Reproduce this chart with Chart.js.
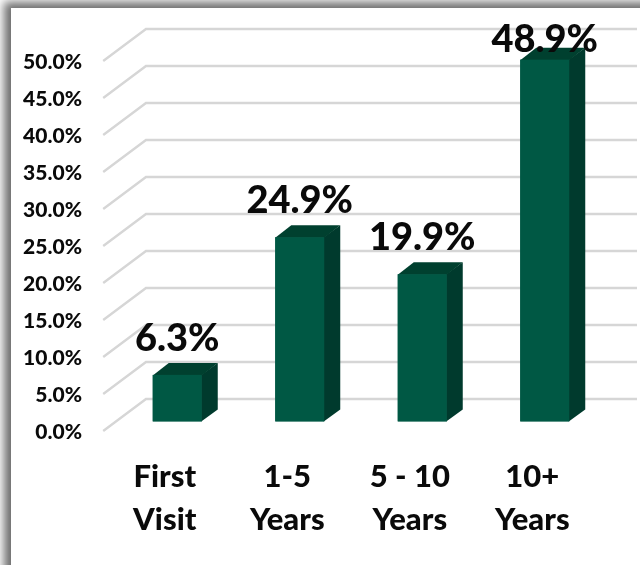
<!DOCTYPE html>
<html><head><meta charset="utf-8">
<script src="https://cdn.jsdelivr.net/npm/chart.js@4"></script>
<style>
html,body{margin:0;padding:0;background:#fff;width:640px;height:565px;overflow:hidden}
#frame{position:absolute;left:11px;top:8px;width:800px;height:800px;box-shadow:-3px -2px 9px 4px #6e6e6e}
canvas{position:absolute;left:0;top:0}
</style></head><body>
<div id="frame"></div>
<canvas id="c" width="640" height="565"></canvas>
<script>
const categories=[["First","Visit"],["1-5","Years"],["5 - 10","Years"],["10+","Years"]];
const values=[6.3,24.9,19.9,48.9];
const valueLabels=["6.3%","24.9%","19.9%","48.9%"];
const yMax=50, yStep=5;
const FONT='Lato, Carlito, sans-serif';

const depth3d={
  id:'depth3d',
  beforeDatasetsDraw(chart){
    const {ctx,scales:{y},chartArea:a}=chart;
    ctx.save();
    ctx.strokeStyle='#d6d6d6';ctx.lineWidth=2.4;ctx.lineJoin='miter';
    for(let v=0;v<=yMax;v+=yStep){
      const p=y.getPixelForValue(v);
      ctx.beginPath();
      ctx.moveTo(a.left-12.8,p+9.5);
      ctx.lineTo(a.left+30,p-22.5);
      ctx.lineTo(a.right+31,p-22.5);
      ctx.stroke();
    }
    ctx.restore();
  },
  afterDatasetsDraw(chart){
    const {ctx}=chart;
    const meta=chart.getDatasetMeta(0);
    const dx=16,dy=12;
    ctx.save();
    meta.data.forEach((b,i)=>{
      const w=b.width/2,l=b.x-w,r=b.x+w,t=b.y,bt=b.base;
      ctx.fillStyle='#003a2d';
      ctx.beginPath();ctx.moveTo(r-0.5,t);ctx.lineTo(r+dx,t-dy);ctx.lineTo(r+dx,bt-dy);ctx.lineTo(r-0.5,bt);ctx.closePath();ctx.fill();
      ctx.fillStyle='#00402f';
      ctx.beginPath();ctx.moveTo(l,t+0.5);ctx.lineTo(l+dx,t-dy);ctx.lineTo(r+dx,t-dy);ctx.lineTo(r,t+0.5);ctx.closePath();ctx.fill();
      ctx.fillStyle='#005844';
      ctx.fillRect(l,t,r-l,bt-t);
    });
    ctx.fillStyle='#0a0a0a';
    ctx.font='900 38px '+FONT;
    ctx.textAlign='center';ctx.textBaseline='alphabetic';
    meta.data.forEach((b,i)=>{
      const base=Math.max(b.y-24,52);
      ctx.fillText(valueLabels[i],b.x,base);
    });
    ctx.restore();
  }
};

new Chart(document.getElementById('c'),{
  type:'bar',
  data:{labels:categories,datasets:[{data:values,backgroundColor:'#005844',borderWidth:0,categoryPercentage:1,barPercentage:0.4}]},
  plugins:[depth3d],
  options:{
    responsive:false,animation:false,
    layout:{padding:{top:51.5,right:34,left:0,bottom:0}},
    plugins:{legend:{display:false},tooltip:{enabled:false}},
    scales:{
      x:{
        grid:{display:false,drawTicks:false},border:{display:false},
        afterFit(s){s.height=143.5;},
        ticks:{color:'#0a0a0a',font:{family:FONT,weight:900,size:31,lineHeight:1.39},padding:34,labelOffset:-12.5,maxRotation:0,autoSkip:false}
      },
      y:{
        min:0,max:yMax,
        grid:{display:false,drawTicks:false},border:{display:false},
        afterFit(s){s.width=116;},
        ticks:{color:'#0a0a0a',stepSize:yStep,font:{family:FONT,weight:900,size:21},padding:34,labelOffset:10.5,callback:v=>v.toFixed(1)+'%'}
      }
    }
  }
});
</script>
</body></html>
